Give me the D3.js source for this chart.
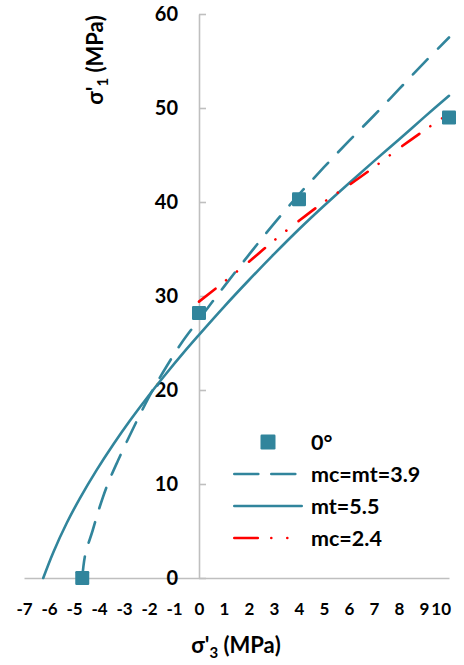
<!DOCTYPE html>
<html>
<head>
<meta charset="utf-8">
<script src="https://cdn.jsdelivr.net/npm/d3@7"></script>
<style>
  html, body { margin: 0; padding: 0; background: #ffffff; }
  svg { display: block; }
</style>
</head>
<body>
<svg id="chart" width="464" height="665"></svg>
<script>
// Axis ticks
const xTicks = [-7, -6, -5, -4, -3, -2, -1, 0, 1, 2, 3, 4, 5, 6, 7, 8, 9, 10];
const yTicks = [0, 10, 20, 30, 40, 50, 60];

// Test results at 0° (σ'3, σ'1 in MPa)
const testSigma3 = [-4.67, 0, 4, 10];
const testSigma1 = [0, 28.2, 40.3, 49.0];

// Failure envelope mc = mt = 3.9
const eqSigma3 = [-4.67, -4.55, -4.26, -3.98, -3.65, -3.24, -2.8, -2.34, -1.85, -1.3, -0.7, 0, 1, 2, 3, 4, 5, 6, 7, 8, 9, 10];
const eqSigma1 = [0, 2.5, 5, 7.5, 10, 12.5, 15, 17.5, 20, 22.5, 25, 27.5, 31.0, 34.4, 37.7, 40.8, 43.7, 46.5, 49.2, 52.0, 54.8, 57.5];

// Failure envelope mt = 5.5
const mtSigma3 = [-6.23, -5.83, -5.29, -4.76, -4.09, -3.43, -2.76, -2.0, -1.43, -0.5, 0, 1, 2, 3, 4, 5, 6, 7, 8, 9, 10];
const mtSigma1 = [0, 2.72, 5.85, 8.5, 11.5, 14.2, 16.75, 19.45, 21.36, 24.34, 25.87, 28.85, 31.7, 34.45, 37.1, 39.6, 42.0, 44.35, 46.65, 49.0, 51.3];

// Failure envelope mc = 2.4
const mcSigma3 = [0, 1, 2, 3, 4, 5, 6, 7, 8, 9, 10];
const mcSigma1 = [29.4, 31.5, 33.65, 35.9, 38.0, 40.0, 41.8, 43.7, 45.7, 47.6, 49.4];

const legendLabels = ["0°", "mc=mt=3.9", "mt=5.5", "mc=2.4"];

const teal = "#31859c";
const red = "#ff0000";
const axisGrey = "#bfbfbf";
const fontFamily = "Lato, 'Liberation Sans', Arial, sans-serif";

const svg = d3.select("#chart");
const x = d3.scaleLinear().domain([-7, 10]).range([24, 449]);
const y = d3.scaleLinear().domain([0, 60]).range([578, 14]);

const zip = (a, b) => a.map((v, i) => [v, b[i]]);
const plain = d => String(d);

// Horizontal axis with labels underneath
const gx = svg.append("g")
  .attr("transform", `translate(0,${y(0)})`)
  .call(d3.axisBottom(x).tickValues(xTicks).tickFormat(plain).tickSize(0).tickPadding(25).tickSizeOuter(0));
gx.attr("font-family", fontFamily).attr("font-weight", "bold").attr("font-size", 17);
gx.select(".domain").attr("stroke", axisGrey).attr("stroke-width", 1.6);
gx.selectAll("text").attr("fill", "#000");
// keep the last label inside the plot's right edge
gx.selectAll(".tick").filter(d => d === xTicks[xTicks.length - 1])
  .select("text").attr("text-anchor", "end").attr("dx", 1.5);

// Vertical axis crossing at σ'3 = 0, ticks pointing right
const gyLine = svg.append("g")
  .attr("transform", `translate(${x(0)},0)`)
  .call(d3.axisRight(y).tickValues(yTicks).tickSize(7).tickSizeOuter(0).tickFormat(""));
gyLine.select(".domain").attr("stroke", axisGrey).attr("stroke-width", 1.6);
gyLine.selectAll(".tick line").attr("stroke", axisGrey).attr("stroke-width", 1.6);

const gyLab = svg.append("g")
  .attr("transform", `translate(${x(0)},0)`)
  .call(d3.axisLeft(y).tickValues(yTicks).tickFormat(plain).tickSize(0).tickPadding(21));
gyLab.attr("font-family", fontFamily).attr("font-weight", "bold").attr("font-size", 20);
gyLab.select(".domain").remove();
gyLab.selectAll("text").attr("fill", "#000");

// Axis titles
const xt = svg.append("text")
  .attr("x", 236).attr("y", 653)
  .attr("text-anchor", "middle")
  .attr("font-family", fontFamily).attr("font-weight", "bold")
  .attr("font-size", 22).attr("fill", "#000");
xt.append("tspan").text("σ'");
xt.append("tspan").attr("font-size", 15).attr("dy", 5).text("3");
xt.append("tspan").attr("dy", -5).text(" (MPa)");

const yt = svg.append("text")
  .attr("transform", "translate(103,60) rotate(-90)")
  .attr("text-anchor", "middle")
  .attr("font-family", fontFamily).attr("font-weight", "bold")
  .attr("font-size", 22).attr("fill", "#000");
yt.append("tspan").text("σ'");
yt.append("tspan").attr("font-size", 15).attr("dy", 5).text("1");
yt.append("tspan").attr("dy", -5).text(" (MPa)");

// Envelopes
const line = d3.line()
  .x(d => x(d[0]))
  .y(d => y(d[1]))
  .curve(d3.curveCatmullRom.alpha(0.5));

const styles = [
  { data: zip(eqSigma3, eqSigma1), color: teal, dash: "21.5,14.5", legendDash: "24,13" },
  { data: zip(mtSigma3, mtSigma1), color: teal, dash: null, legendDash: null },
  { data: zip(mcSigma3, mcSigma1), color: red, dash: "21,13.5,0.01,14,0.01,15.5", legendDash: "23.5,13.5,0.01,16,0.01,15.5" }
];

styles.forEach(s => {
  svg.append("path")
    .datum(s.data)
    .attr("d", line)
    .attr("fill", "none")
    .attr("stroke", s.color)
    .attr("stroke-width", 2.6)
    .attr("stroke-linecap", "round")
    .attr("stroke-dasharray", s.dash);
});

// Test points
const sq = 14;
svg.append("g").selectAll("rect")
  .data(zip(testSigma3, testSigma1))
  .join("rect")
  .attr("x", d => x(d[0]) - sq / 2)
  .attr("y", d => y(d[1]) - sq / 2)
  .attr("width", sq).attr("height", sq)
  .attr("rx", 1.2)
  .attr("fill", teal);

// Legend
const lg = svg.append("g");
const legX0 = 233, legX1 = 303, legTextX = 311;
const legY = [442, 474, 506, 538];

lg.append("rect")
  .attr("x", (legX0 + legX1) / 2 - 7.5).attr("y", legY[0] - 7.5)
  .attr("width", 15).attr("height", 15).attr("rx", 1.2)
  .attr("fill", teal);

styles.forEach((s, i) => {
  lg.append("line")
    .attr("x1", legX0 + 1.3).attr("x2", legX1 - 1.3)
    .attr("y1", legY[i + 1]).attr("y2", legY[i + 1])
    .attr("stroke", s.color)
    .attr("stroke-width", 2.6)
    .attr("stroke-linecap", "round")
    .attr("stroke-dasharray", s.legendDash);
});

lg.selectAll("text")
  .data(legendLabels)
  .join("text")
  .attr("x", legTextX)
  .attr("y", (d, i) => legY[i])
  .attr("dy", "0.36em")
  .attr("font-family", fontFamily).attr("font-weight", "bold")
  .attr("font-size", 21.5)
  .attr("fill", "#000")
  .text(d => d);
</script>
</body>
</html>
